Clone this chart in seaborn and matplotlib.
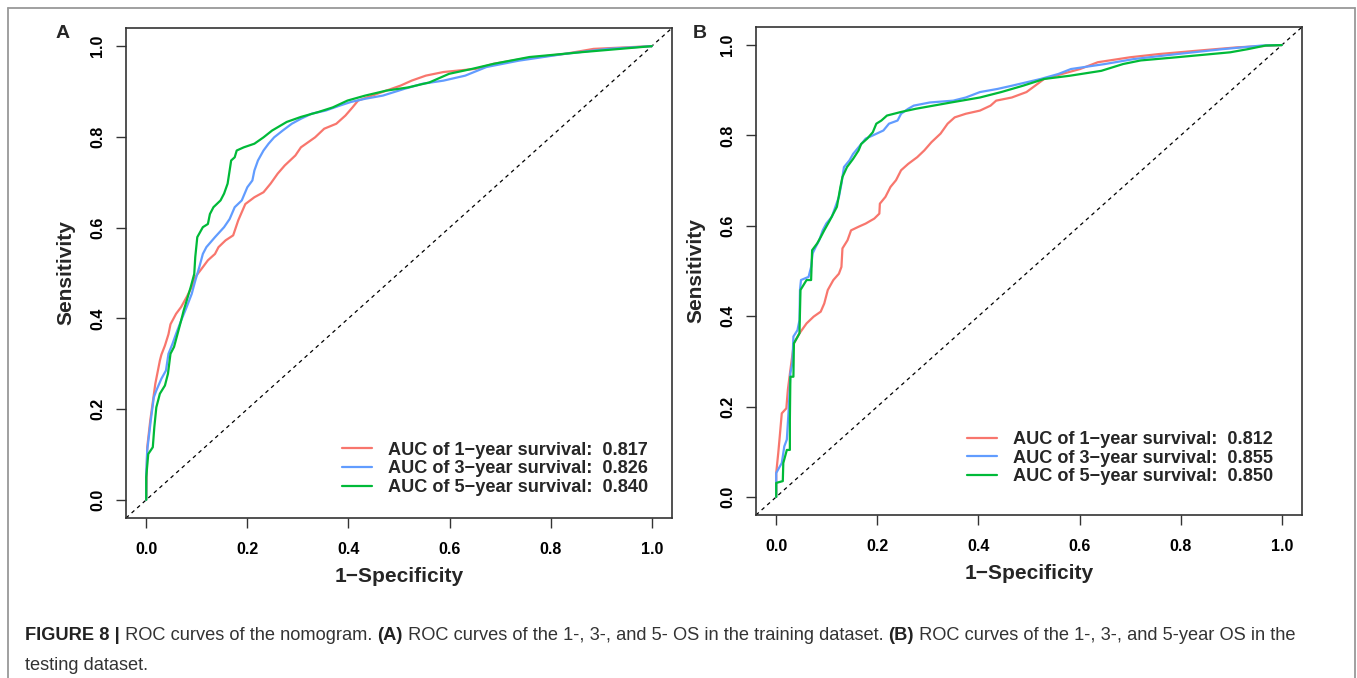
import numpy as np
import pandas as pd
import seaborn as sns
import matplotlib
matplotlib.use('Agg')
import matplotlib.pyplot as plt
from matplotlib.lines import Line2D

# ---- data (1 - specificity, sensitivity) ----
# panel A: training dataset
a_fpr_1yr = [0, 0.002, 0.008, 0.018, 0.027, 0.030, 0.037, 0.044, 0.048, 0.059, 0.069, 0.080,
             0.090, 0.097, 0.112, 0.122, 0.136, 0.143, 0.157, 0.172, 0.182, 0.196, 0.214, 0.232,
             0.246, 0.260, 0.274, 0.295, 0.306, 0.334, 0.352, 0.376, 0.394, 0.408, 0.419, 0.447,
             0.475, 0.503, 0.525, 0.553, 0.588, 0.652, 0.687, 0.744, 0.828, 0.885, 1.0]
a_tpr_1yr = [0, 0.116, 0.175, 0.256, 0.307, 0.320, 0.340, 0.365, 0.387, 0.410, 0.425, 0.447,
             0.469, 0.491, 0.513, 0.528, 0.542, 0.557, 0.572, 0.583, 0.616, 0.652, 0.667, 0.678,
             0.697, 0.719, 0.737, 0.759, 0.777, 0.799, 0.818, 0.829, 0.847, 0.865, 0.880, 0.891,
             0.902, 0.913, 0.924, 0.935, 0.943, 0.950, 0.961, 0.972, 0.983, 0.994, 1.0]
a_fpr_3yr = [0, 0, 0.002, 0.009, 0.015, 0.020, 0.030, 0.039, 0.044, 0.052, 0.059, 0.069, 0.080,
             0.090, 0.097, 0.105, 0.112, 0.119, 0.136, 0.154, 0.165, 0.175, 0.189, 0.200, 0.210,
             0.214, 0.221, 0.232, 0.242, 0.253, 0.270, 0.288, 0.306, 0.327, 0.355, 0.383, 0.405,
             0.433, 0.468, 0.511, 0.546, 0.588, 0.631, 0.673, 0.737, 0.828, 0.913, 1.0]
a_tpr_3yr = [0, 0.057, 0.109, 0.175, 0.226, 0.241, 0.267, 0.285, 0.322, 0.344, 0.366, 0.395, 0.425,
             0.454, 0.483, 0.513, 0.542, 0.557, 0.579, 0.601, 0.619, 0.645, 0.660, 0.689, 0.704,
             0.726, 0.748, 0.770, 0.785, 0.799, 0.814, 0.829, 0.840, 0.851, 0.858, 0.869, 0.877,
             0.884, 0.891, 0.906, 0.917, 0.924, 0.935, 0.954, 0.968, 0.983, 0.994, 1.0]
a_fpr_5yr = [0, 0, 0.004, 0.013, 0.016, 0.020, 0.027, 0.037, 0.043, 0.048, 0.055, 0.062, 0.069,
             0.074, 0.080, 0.088, 0.095, 0.097, 0.101, 0.112, 0.122, 0.126, 0.133, 0.147, 0.154,
             0.161, 0.165, 0.168, 0.175, 0.179, 0.193, 0.214, 0.232, 0.249, 0.278, 0.306, 0.341,
             0.369, 0.398, 0.433, 0.475, 0.518, 0.560, 0.599, 0.645, 0.687, 0.758, 0.864, 1.0]
a_tpr_5yr = [0, 0.050, 0.101, 0.116, 0.160, 0.204, 0.234, 0.252, 0.278, 0.322, 0.337, 0.366, 0.395,
             0.417, 0.439, 0.469, 0.498, 0.535, 0.579, 0.601, 0.608, 0.630, 0.645, 0.660, 0.675,
             0.697, 0.726, 0.748, 0.755, 0.770, 0.777, 0.785, 0.799, 0.814, 0.833, 0.844, 0.855,
             0.865, 0.880, 0.891, 0.902, 0.909, 0.920, 0.939, 0.950, 0.961, 0.976, 0.987, 1.0]

# panel B: testing dataset
b_fpr_1yr = [0, 0, 0.004, 0.007, 0.011, 0.020, 0.023, 0.028, 0.035, 0.046, 0.060, 0.074, 0.088,
             0.095, 0.102, 0.113, 0.124, 0.129, 0.131, 0.141, 0.148, 0.163, 0.177, 0.194, 0.204,
             0.205, 0.216, 0.226, 0.237, 0.247, 0.261, 0.279, 0.293, 0.307, 0.325, 0.339, 0.353,
             0.375, 0.403, 0.424, 0.435, 0.466, 0.495, 0.512, 0.530, 0.565, 0.601, 0.636, 0.700,
             0.756, 0.827, 0.912, 1.0]
b_tpr_1yr = [0, 0.053, 0.097, 0.134, 0.185, 0.196, 0.237, 0.281, 0.340, 0.362, 0.384, 0.399, 0.410,
             0.428, 0.458, 0.480, 0.494, 0.509, 0.550, 0.568, 0.590, 0.598, 0.605, 0.616, 0.627,
             0.649, 0.664, 0.686, 0.701, 0.723, 0.737, 0.752, 0.767, 0.785, 0.804, 0.826, 0.840,
             0.848, 0.855, 0.866, 0.877, 0.884, 0.896, 0.910, 0.925, 0.936, 0.947, 0.962, 0.973,
             0.980, 0.987, 0.995, 1.0]
b_fpr_3yr = [0, 0, 0.011, 0.016, 0.021, 0.025, 0.028, 0.032, 0.034, 0.042, 0.046, 0.047, 0.049,
             0.064, 0.069, 0.072, 0.078, 0.085, 0.092, 0.099, 0.110, 0.117, 0.124, 0.129, 0.134,
             0.145, 0.152, 0.163, 0.177, 0.191, 0.212, 0.223, 0.240, 0.247, 0.261, 0.272, 0.304,
             0.350, 0.375, 0.403, 0.438, 0.466, 0.523, 0.558, 0.583, 0.650, 0.707, 0.792, 0.883,
             0.961, 1.0]
b_tpr_3yr = [0, 0.053, 0.075, 0.112, 0.127, 0.200, 0.274, 0.296, 0.355, 0.369, 0.391, 0.458, 0.480,
             0.487, 0.509, 0.539, 0.553, 0.568, 0.590, 0.605, 0.620, 0.642, 0.664, 0.693, 0.730,
             0.745, 0.759, 0.774, 0.793, 0.800, 0.811, 0.826, 0.833, 0.848, 0.859, 0.866, 0.873,
             0.877, 0.884, 0.896, 0.903, 0.910, 0.925, 0.936, 0.947, 0.958, 0.969, 0.980, 0.991,
             0.999, 1.0]
b_fpr_5yr = [0, 0, 0.013, 0.014, 0.021, 0.027, 0.027, 0.028, 0.034, 0.035, 0.046, 0.048, 0.060,
             0.069, 0.071, 0.081, 0.088, 0.095, 0.106, 0.120, 0.127, 0.131, 0.140, 0.152, 0.163,
             0.168, 0.180, 0.191, 0.198, 0.208, 0.219, 0.247, 0.276, 0.311, 0.346, 0.403, 0.445,
             0.488, 0.530, 0.580, 0.643, 0.686, 0.721, 0.792, 0.898, 0.933, 0.968, 1.0]
b_tpr_5yr = [0, 0.031, 0.035, 0.075, 0.104, 0.104, 0.171, 0.266, 0.266, 0.340, 0.362, 0.458, 0.480,
             0.480, 0.546, 0.561, 0.575, 0.590, 0.612, 0.642, 0.686, 0.708, 0.730, 0.748, 0.767,
             0.781, 0.793, 0.807, 0.826, 0.833, 0.844, 0.852, 0.859, 0.866, 0.873, 0.884, 0.896,
             0.910, 0.925, 0.932, 0.943, 0.958, 0.966, 0.973, 0.984, 0.991, 0.999, 1.0]

a_labels = ['AUC of 1\u2212year survival:  0.817',
            'AUC of 3\u2212year survival:  0.826',
            'AUC of 5\u2212year survival:  0.840']
b_labels = ['AUC of 1\u2212year survival:  0.812',
            'AUC of 3\u2212year survival:  0.855',
            'AUC of 5\u2212year survival:  0.850']
ticks = [0.0, 0.2, 0.4, 0.6, 0.8, 1.0]
tick_labels = ['0.0', '0.2', '0.4', '0.6', '0.8', '1.0']

COLORS = ['#F8766D', '#619CFF', '#00BA38']
W, H = 1357, 678

sns.set_style('ticks')
plt.rcParams['font.family'] = ['Liberation Sans', 'DejaVu Sans']


def roc_frame(curves, labels):
    parts = [pd.DataFrame({'fpr': f, 'tpr': t, 'curve': lab}) for (f, t), lab in zip(curves, labels)]
    return pd.concat(parts, ignore_index=True)


def draw_panel(ax, df, labels, anchor):
    ax.plot([-0.04, 1.04], [-0.04, 1.04], color='black', lw=0.9, ls=(0, (3, 3)))
    sns.lineplot(data=df, x='fpr', y='tpr', hue='curve', hue_order=labels, palette=COLORS,
                 sort=False, estimator=None, lw=1.6, ax=ax)
    ax.set_xlim(-0.04, 1.04)
    ax.set_ylim(-0.04, 1.04)
    ax.set_xticks(ticks)
    ax.set_yticks(ticks)
    ax.set_xticklabels(tick_labels)
    ax.set_yticklabels(tick_labels)
    for lab in ax.get_xticklabels() + ax.get_yticklabels():
        lab.set_fontweight('bold')
    ax.tick_params(axis='both', direction='out', length=7, width=1, color='#333333',
                   labelsize=11.5, labelcolor='black')
    ax.tick_params(axis='x', pad=10)
    ax.tick_params(axis='y', pad=8, labelrotation=90)
    for lab in ax.get_yticklabels():
        lab.set_va('center')
    for sp in ax.spines.values():
        sp.set_visible(True)
        sp.set_color('#333333')
        sp.set_linewidth(1.2)
    ax.set_xlabel('1\u2212Specificity', fontsize=15, fontweight='bold', va='center')
    ax.set_ylabel('Sensitivity', fontsize=15, fontweight='bold', va='center')
    ax.xaxis.set_label_coords(0.5, -0.12)
    ax.yaxis.set_label_coords(-0.11, 0.5)
    handles, hl = ax.get_legend_handles_labels()
    ax.legend(handles, hl, loc='lower right', bbox_to_anchor=anchor, frameon=False,
              prop={'weight': 'bold', 'size': 13.1}, handlelength=1.65, handletextpad=0.88,
              labelspacing=0.09, borderpad=0, borderaxespad=0)


fig = plt.figure(figsize=(W / 100, H / 100), dpi=100)
ax_a = fig.add_axes([126 / W, 1 - 518 / H, 546 / W, 490 / H])
ax_b = fig.add_axes([756 / W, 1 - 515 / H, 546 / W, 488 / H])

df_a = roc_frame([(a_fpr_1yr, a_tpr_1yr), (a_fpr_3yr, a_tpr_3yr), (a_fpr_5yr, a_tpr_5yr)], a_labels)
df_b = roc_frame([(b_fpr_1yr, b_tpr_1yr), (b_fpr_3yr, b_tpr_3yr), (b_fpr_5yr, b_tpr_5yr)], b_labels)
draw_panel(ax_a, df_a, a_labels, (0.956, 0.045))
draw_panel(ax_b, df_b, b_labels, (0.947, 0.061))

fig.text(63 / W, 1 - 34 / H, 'A', fontsize=14, fontweight='bold', ha='center', va='center')
fig.text(700 / W, 1 - 33 / H, 'B', fontsize=14, fontweight='bold', ha='center', va='center')

# frame round the figure (open at the bottom)
frame_kw = dict(transform=fig.transFigure, color='#999999', lw=1.3)
fig.add_artist(Line2D([8 / W, 8 / W], [0, 1 - 8 / H], **frame_kw))
fig.add_artist(Line2D([8 / W, 1355 / W], [1 - 8 / H, 1 - 8 / H], **frame_kw))
fig.add_artist(Line2D([1355 / W, 1355 / W], [0, 1 - 8 / H], **frame_kw))

# caption, mixed bold / regular runs
renderer = fig.canvas.get_renderer()


def caption_line(x_px, y_px, runs, size=13.15):
    x = x_px / W
    for text, weight in runs:
        t = fig.text(x, 1 - y_px / H, text, fontsize=size, fontweight=weight, ha='left', va='center',
                     color='#222222' if weight == 'bold' else '#333333')
        x = t.get_window_extent(renderer).x1 / W


caption_line(25, 635, [('FIGURE 8 |', 'bold'), (' ROC curves of the nomogram. ', 'normal'),
                       ('(A)', 'bold'),
                       (' ROC curves of the 1-, 3-, and 5- OS in the training dataset. ', 'normal'),
                       ('(B)', 'bold'),
                       (' ROC curves of the 1-, 3-, and 5-year OS in the', 'normal')])
caption_line(25, 665, [('testing dataset.', 'normal')])

fig.savefig('out.png', dpi=100)
